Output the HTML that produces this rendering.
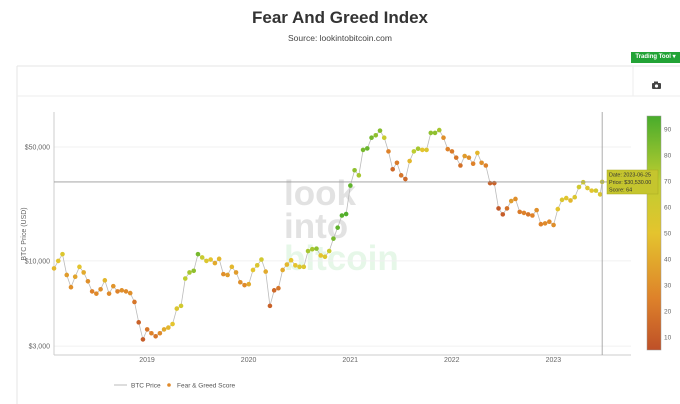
<!DOCTYPE html>
<html><head><meta charset="utf-8"><style>
body{margin:0;width:680px;height:404px;background:#fff;font-family:"Liberation Sans",sans-serif;overflow:hidden;position:relative}
.t{position:absolute;left:0;width:680px;text-align:center}
</style></head><body>
<div class="t" style="top:8px;font-size:17px;font-weight:bold;color:#333">Fear And Greed Index</div>
<div class="t" style="top:33px;font-size:8.5px;color:#444">Source: lookintobitcoin.com</div>
<div style="position:absolute;left:631px;top:52px;width:49px;height:11px;background:#22a336;color:#fff;font-size:6px;font-weight:bold;line-height:11px;text-align:center">Trading Tool ▾</div>
<svg id="c" width="680" height="404" style="position:absolute;left:0;top:0">
<line x1="17" y1="66" x2="680" y2="66" stroke="#e6e6e6"/>
<line x1="17" y1="66" x2="17" y2="404" stroke="#e6e6e6"/>
<line x1="17" y1="96" x2="680" y2="96" stroke="#eee"/>
<line x1="633" y1="66" x2="633" y2="96" stroke="#eee"/>
<g><rect x="652" y="83" width="9" height="6" rx="1" fill="#444"/><rect x="654" y="81.5" width="4" height="2" fill="#444"/><circle cx="656.5" cy="86" r="1.6" fill="#fff"/></g>
<text x="284" y="205" font-size="35" font-weight="bold" fill="#e2e2e2">look</text>
<text x="284" y="238" font-size="35" font-weight="bold" fill="#e2e2e2">into</text>
<text x="284" y="270" font-size="35" font-weight="bold" fill="#e6f7e8">bitcoin</text>
<g id="g"></g>
</svg>
<script>
const prices=[9000,10000,11000,8200,6900,8000,9200,8500,7500,6500,6300,6700,7600,6300,7000,6500,6600,6500,6350,5600,4200,3300,
3800,3600,3450,3600,3800,3900,4100,5100,5300,7800,8500,8700,11000,10500,10000,10200,9700,10300,8300,8200,9200,8500,7400,7100,
7200,8800,9400,10200,8600,5300,6600,6800,8800,9500,10100,9400,9200,9200,11500,11800,11900,10800,10600,11500,13700,16000,19000,19400,
29000,36000,33500,48000,49000,57000,59000,63000,57000,47000,36500,40000,33500,31800,41000,47000,48800,48000,48000,61000,61000,63500,57000,48500,
47000,43000,38500,44000,43000,39500,46000,40000,38500,30000,30000,21000,19300,21000,23300,24000,20000,19700,19300,19000,20500,16800,17000,17400,
16600,20800,23700,24300,23500,24600,28400,30400,28000,27000,27000,25600,30530];
const scores=[45,50,55,35,30,38,50,40,30,25,28,30,45,28,32,25,30,28,30,20,12,10,
20,25,20,28,40,45,50,55,60,70,75,80,85,65,55,50,40,45,30,35,45,35,30,28,
40,50,55,60,40,12,15,20,40,45,50,50,55,55,75,75,80,50,55,65,85,90,92,93,
90,80,75,85,88,85,80,82,65,25,15,22,20,15,45,70,75,50,55,80,80,75,30,25,
22,20,18,35,30,25,45,30,25,12,12,8,10,18,35,30,22,25,20,25,30,25,28,28,
30,50,55,52,45,55,60,62,55,50,60,55,64];
const colorTicks=[10,20,30,40,50,60,70,80,90];
const yearTicks=[2019,2020,2021,2022,2023];
const priceTicks=[3000,10000,50000];
const t0=2018.085,dt=1/24;
const X=t=>147+(t-2019)*101.6;
const Y=p=>147-(Math.log10(p)-Math.log10(50000))*163;
const CB=s=>337-(s-10)*2.6;
const stops=[[5,[190,80,40]],[25,[222,130,42]],[50,[228,196,46]],[70,[190,205,48]],[95,[72,172,44]]];
function col(s){for(let i=1;i<stops.length;i++){if(s<=stops[i][0]||i==stops.length-1){const a=stops[i-1],b=stops[i];let f=Math.max(0,Math.min(1,(s-a[0])/(b[0]-a[0])));return 'rgb('+a[1].map((v,k)=>Math.round(v+(b[1][k]-v)*f)).join(',')+')';}}}
const NS='http://www.w3.org/2000/svg',g=document.getElementById('g');
function mk(tag,at,txt){const e=document.createElementNS(NS,tag);for(const k in at)e.setAttribute(k,at[k]);if(txt!==undefined)e.textContent=txt;g.appendChild(e);return e;}
const tx=i=>i==prices.length-1?2023.48:t0+i*dt;
priceTicks.forEach(p=>{const gl=mk('line',{x1:54,x2:631,y1:Y(p),y2:Y(p),stroke:'#f0f0f0'});


const l=mk('text',{x:50,y:Y(p)+2.5,'font-size':7,fill:'#666','text-anchor':'end'},'$'+p.toLocaleString('en-US'));

});
const ax=mk('line',{x1:54,x2:54,y1:112,y2:355,stroke:'#ccc'});


const xa=mk('line',{x1:54,x2:631,y1:355,y2:355,stroke:'#ccc'});


yearTicks.forEach(y=>{const l=mk('text',{x:X(y),y:362,'font-size':7,fill:'#666','text-anchor':'middle'},y);

});
const yt=mk('text',{x:26,y:234,'font-size':7,fill:'#666','text-anchor':'middle',transform:'rotate(-90 26 234)'},'BTC Price (USD)');


const pl=mk('polyline',{points:prices.map((p,i)=>X(tx(i))+','+Y(p)).join(' '),fill:'none',stroke:'#bbb','stroke-width':0.8});


prices.forEach((p,i)=>{const c=mk('circle',{cx:X(tx(i)),cy:Y(p),r:2.3,fill:col(scores[i])});

});
const defs=mk('defs',{});const lg=document.createElementNS(NS,'linearGradient');lg.setAttribute('id','cg');lg.setAttribute('x1','0');lg.setAttribute('y1','1');lg.setAttribute('x2','0');lg.setAttribute('y2','0');
stops.forEach(s=>{const st=document.createElementNS(NS,'stop');st.setAttribute('offset',(s[0]-5)/90);st.setAttribute('stop-color',col(s[0]));lg.appendChild(st);});defs.appendChild(lg);
const cb=mk('rect',{x:647,y:CB(95),width:14,height:CB(5)-CB(95),fill:'url(#cg)',stroke:'#999','stroke-width':0.5});


colorTicks.forEach(s=>{const e=mk('text',{x:664,y:CB(s)+2.5,'font-size':6.5,fill:'#666'},s);

});
const lx=X(tx(prices.length-1)),ly=Y(prices[prices.length-1]);
const v=mk('line',{x1:lx,x2:lx,y1:112,y2:355,stroke:'#999','stroke-width':0.8});


const h=mk('line',{x1:54,x2:631,y1:ly,y2:ly,stroke:'#999','stroke-width':0.8});


const tb=mk('rect',{x:607,y:170,width:51,height:24,fill:'#c5c52e',stroke:'#a8a820','stroke-width':0.5});


['Date: 2023-06-25','Price: $30,530.00','Score: '+scores[scores.length-1]].forEach((s,i)=>{const e=mk('text',{x:609,y:176.5+i*7.5,'font-size':5.4,fill:'#333'},s);

});
const l1=mk('line',{x1:114,x2:127,y1:385,y2:385,stroke:'#bbb'});


const lt1=mk('text',{x:131,y:387.5,'font-size':6.5,fill:'#555'},'BTC Price');


const ld=mk('circle',{cx:169,cy:385,r:1.8,fill:'#e08a2a'});


const lt2=mk('text',{x:177,y:387.5,'font-size':6.5,fill:'#555'},'Fear & Greed Score');


</script>
</body></html>
